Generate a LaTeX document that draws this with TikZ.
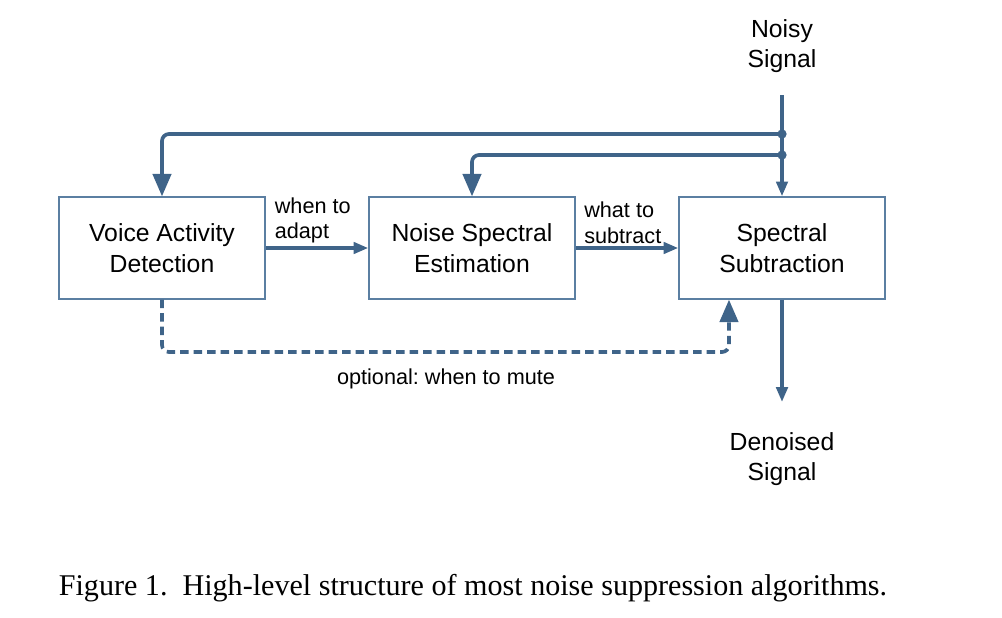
\documentclass[tikz,border=0pt]{standalone}
\usepackage{fontspec}
\setmainfont{Liberation Sans}
\newfontfamily\capfont{Liberation Serif}
\usetikzlibrary{arrows.meta,positioning}
\frenchspacing

\definecolor{flowblue}{HTML}{3F6489}
\definecolor{boxblue}{HTML}{5B7FA2}

\begin{document}
\begin{tikzpicture}[x=0.025cm,y=-0.025cm,
  block/.style={draw=boxblue, line width=0.9pt, minimum width=5.15cm, minimum height=2.55cm,
    align=center, font=\fontsize{17.6}{22}\selectfont},
  lbl/.style={align=center, font=\fontsize{17.6}{21.5}\selectfont},
  note/.style={align=left, inner sep=1pt, font=\fontsize{15.4}{18}\selectfont},
  flow/.style={draw=flowblue, line width=2.6pt, -{Triangle[length=10.5pt,width=8pt]}},
  bigflow/.style={flow, rounded corners=5pt, -{Triangle[length=16pt,width=13pt]}},
  dashflow/.style={bigflow, dash pattern=on 6pt off 3.6pt}]
  \useasboundingbox (0,0) rectangle (1002,618);

  % blocks
  \node[block] (vad) at (162,248) {Voice Activity\\Detection};
  \node[block] (nse) at (472,248) {Noise Spectral\\Estimation};
  \node[block] (ss) at (782,248) {Spectral\\Subtraction};

  % signal in and out
  \node[lbl] (noisy) at (782,46) {Noisy\\Signal};
  \node[lbl] (denoised) at (782,459) {Denoised\\Signal};
  \coordinate (src) at (782,95);
  \coordinate (sink) at (782,402);
  \coordinate (j1) at (782,134);
  \coordinate (j2) at (782,155);
  \coordinate (dip) at (446,352);

  % main path
  \draw[flow] (src) -- (ss.north);
  \draw[flow] (ss.south) -- (sink);
  \draw[flow] (vad) -- node[note, above=1pt, xshift=-3] {when to\\adapt} (nse);
  \draw[flow] (nse) -- node[note, above=1pt, xshift=-3] {what to\\subtract} (ss);

  % taps of the noisy signal
  \draw[bigflow] (j1) -| (vad.north);
  \draw[bigflow] (j2) -| (nse.north);
  \fill[flowblue] (j1) circle (3.3pt);
  \fill[flowblue] (j2) circle (3.3pt);

  % optional mute
  \draw[dashflow] (vad.south) |- (dip) -| ([xshift=-1.325cm]ss.south);
  \node[note, align=center] (mute) at (446,379) {optional: when to mute};

  % caption
  \node[anchor=base, inner sep=0pt, font=\capfont\fontsize{21.4}{24}\selectfont] (caption) at (473,595)
    {Figure 1.\ \ High-level structure of most noise suppression algorithms.};
\end{tikzpicture}
\end{document}
